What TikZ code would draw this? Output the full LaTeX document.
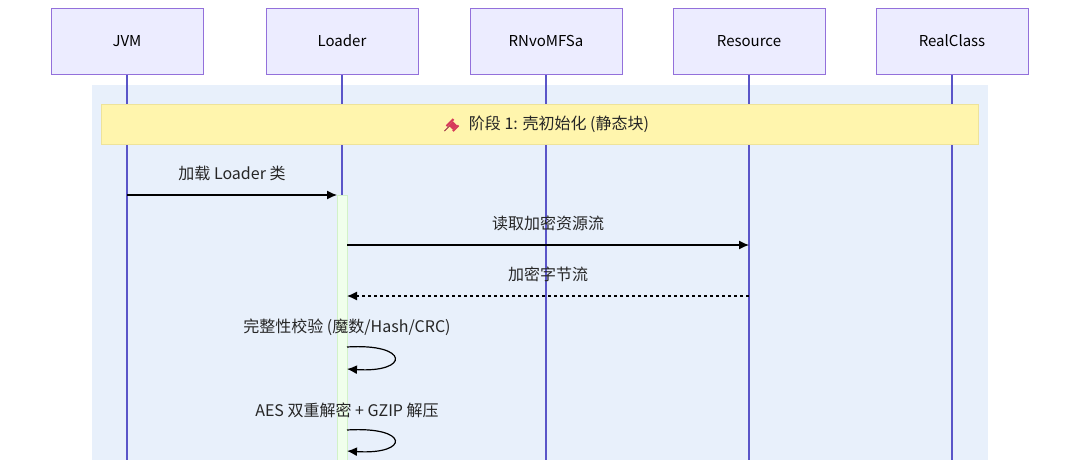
\documentclass[tikz,border=0pt]{standalone}
\usepackage{fontspec}
\setmainfont{Noto Sans CJK SC}
\usetikzlibrary{arrows.meta,positioning}
\definecolor{actfill}{HTML}{ECECFF}
\definecolor{actline}{HTML}{9370DB}
\definecolor{lifeline}{HTML}{5A55C8}
\definecolor{boxbg}{HTML}{E8F0FB}
\definecolor{notefill}{HTML}{FFF5AD}
\definecolor{noteline}{HTML}{EEE39A}
\definecolor{actvfill}{HTML}{F0FFEC}
\definecolor{actvline}{HTML}{D2F2C8}
\definecolor{pinred}{HTML}{D63A5A}
\tikzset{
  actor/.style={draw=actline, line width=0.9pt, fill=actfill, minimum width=152pt, minimum height=66pt, font=\fontsize{15}{17}\selectfont},
  msg/.style={-{Latex[length=10pt,width=9pt]}, line width=1.2pt, black},
  reply/.style={msg, dash pattern=on 3pt off 3pt},
  lbl/.style={font=\fontsize{16}{18}\selectfont, text=black!85},
}
\begin{document}
\begin{tikzpicture}[x=1pt,y=-1pt]
\useasboundingbox (0,0) rectangle (1080,459);
\clip (0,0) rectangle (1080,459);
\fill[boxbg] (92,85) rectangle (988,470);
% participants
\foreach \name/\x in {jvm/127,loader/342,rnvo/546,res/749,real/952}
  \draw[lifeline, line width=1.3pt] (\x,74) -- (\x,470);
\node[actor] (jvm) at (127,41) {JVM};
\node[actor] (loader) at (342,41) {Loader};
\node[actor] (rnvo) at (546,41) {RNvoMFSa};
\node[actor] (res) at (749,41) {Resource};
\node[actor] (real) at (952,41) {RealClass};
% note
\node[draw=noteline, fill=notefill, minimum width=877pt, minimum height=40pt] (note) at (539.5,124) {};
\node[lbl] (phase) at (559,124) {阶段 1: 壳初始化 (静态块)};
\begin{scope}[shift={(phase.west)}, xshift=-14pt]
  \draw[pinred!70!black, line width=0.9pt] (-7,7) -- (-1,1);
  \fill[pinred, rotate=45] (-3,-1) rectangle (3,5);
  \fill[pinred, rotate=45] (-5,-3) rectangle (5,-1);
  \fill[pinred, rotate=45] (-4,5) rectangle (4,7);
\end{scope}
% activation
\draw[actvline, fill=actvfill] (337,195) rectangle (347,470);
\coordinate (jvmA) at (127,195);
\coordinate (ldA) at (337,195);
\coordinate (ldB) at (347,245);
\coordinate (resB) at (749,245);
\coordinate (resC) at (749,296);
\coordinate (ldC) at (347,296);
\coordinate (ldD) at (347,347);
\coordinate (ldE) at (347,369);
\coordinate (ldF) at (347,430);
\coordinate (ldG) at (347,451);
\draw[msg] (jvmA) -- node[lbl, above=10pt] {加载 Loader 类} (ldA);
\draw[msg] (ldB) -- node[lbl, above=10pt] {读取加密资源流} (resB);
\draw[reply] (resC) -- node[lbl, above=10pt] {加密字节流} (ldC);
\draw[msg] (ldD) .. controls (410,343) and (410,373) .. (ldE);
\node[lbl] (chk) at (347,327) {完整性校验 (魔数/Hash/CRC)};
\draw[msg] (ldF) .. controls (410,426) and (410,455) .. (ldG);
\node[lbl] (aes) at (347,410) {AES 双重解密 + GZIP 解压};
\end{tikzpicture}
\end{document}
